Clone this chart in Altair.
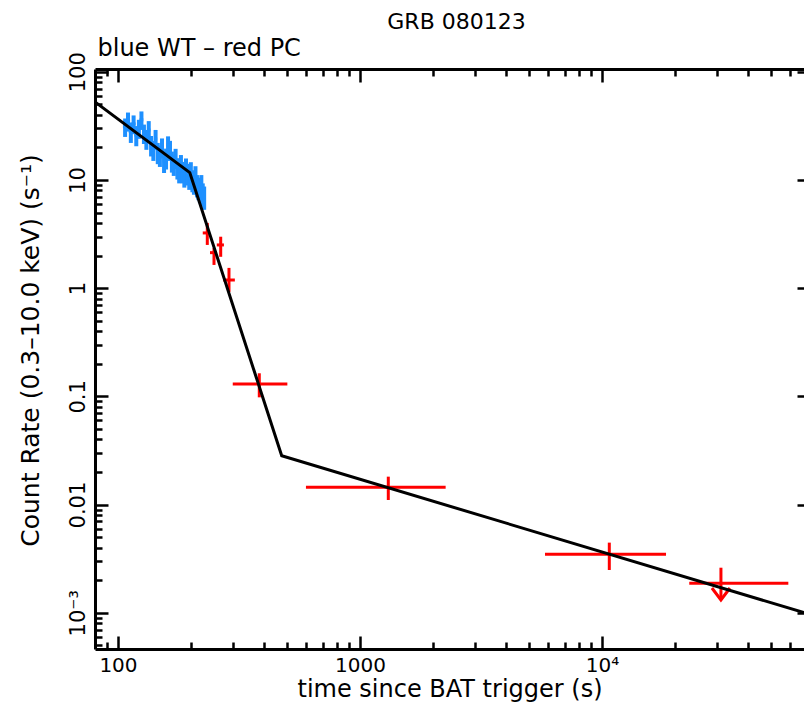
import altair as alt
import pandas as pd

# ---------------- data ----------------
# WT mode (blue) binned points
WT_T = [107, 110, 113, 116, 119, 122, 125, 128, 131, 134, 137, 140, 143, 146, 149,
        152, 155, 158, 161, 164, 167, 170, 173, 176, 179, 182, 185, 188, 191, 194,
        197, 200, 203, 206, 209, 212, 215, 218, 221, 224, 227]
WT_RATE = [31, 35, 28, 33, 26, 30, 36, 27, 24, 29, 21, 19, 24, 18, 17,
           20, 15, 16, 21, 19, 15, 14, 16, 13, 12, 14, 12, 11, 13, 11.5,
           10.5, 12, 10, 9.5, 11, 9, 8.5, 8, 9, 7.5, 7]
WT_ERR = [6, 7, 6, 6.5, 5.5, 6, 7, 5.5, 5, 6, 4.5, 4, 5, 4, 3.8,
          4.2, 3.4, 3.5, 4.3, 4, 3.3, 3.1, 3.4, 2.9, 2.7, 3, 2.7, 2.5, 2.8, 2.6,
          2.4, 2.6, 2.3, 2.2, 2.4, 2.1, 2, 1.9, 2.1, 1.8, 1.7]
WT_HALF_BIN = 2.2

# PC mode (red) points
PC_T = [233.9, 249.3, 265.7, 287.5, 383.6, 1309, 10720]
PC_T_LO = [224, 240, 256, 272, 298, 598, 5814]
PC_T_HI = [240, 256, 274, 304, 501, 2259, 18390]
PC_RATE = [3.24, 2.13, 2.51, 1.19, 0.130, 0.01445, 0.00347]
PC_RATE_LO = [2.51, 1.64, 1.95, 0.923, 0.098, 0.01103, 0.002487]
PC_RATE_HI = [4.01, 2.35, 2.99, 1.54, 0.1635, 0.01812, 0.00445]

# PC upper limit
UL_T = [31010]
UL_T_LO = [22940]
UL_T_HI = [58880]
UL_RATE = [0.001874]
UL_TOP = [0.00261]
UL_TIP = [0.001312]

# broken power-law model
MODEL_T = [80.35, 198.0, 474.8, 68350.0]
MODEL_RATE = [52.6, 11.7, 0.0283, 0.001003]

# axes
X_DOMAIN = [80.35, 68350]
Y_DOMAIN = [0.0004627, 106.1]
X_MAJOR = [100, 1000, 10000]
X_MAJOR_LABELS = ["100", "1000", "10⁴"]
X_MINOR = [90, 200, 300, 400, 500, 600, 700, 800, 900,
           2000, 3000, 4000, 5000, 6000, 7000, 8000, 9000,
           20000, 30000, 40000, 50000, 60000]
Y_MAJOR = [0.001, 0.01, 0.1, 1, 10, 100]
Y_MAJOR_LABELS = ["10⁻³", "0.01", "0.1", "1", "10", "100"]
Y_MINOR = [0.0005, 0.0006, 0.0007, 0.0008, 0.0009,
           0.002, 0.003, 0.004, 0.005, 0.006, 0.007, 0.008, 0.009,
           0.02, 0.03, 0.04, 0.05, 0.06, 0.07, 0.08, 0.09,
           0.2, 0.3, 0.4, 0.5, 0.6, 0.7, 0.8, 0.9,
           2, 3, 4, 5, 6, 7, 8, 9,
           20, 30, 40, 50, 60, 70, 80, 90]

TITLE = "GRB 080123"
SUBTITLE = "blue WT – red PC"
X_TITLE = "time since BAT trigger (s)"
Y_TITLE = "Count Rate (0.3–10.0 keV) (s⁻¹)"

BLUE = "#1E90FF"
RED = "#FF0000"
FONT = "DejaVu Sans"

W, H = 709, 580

# ---------------- tables ----------------
wt = pd.DataFrame({"t": WT_T, "rate": WT_RATE, "err": WT_ERR})
wt["lo"] = wt["rate"] - wt["err"]
wt["hi"] = wt["rate"] + wt["err"]
wt["t_lo"] = wt["t"] - WT_HALF_BIN
wt["t_hi"] = wt["t"] + WT_HALF_BIN

pc_v = pd.DataFrame({"t": PC_T + UL_T, "lo": PC_RATE_LO + UL_TIP, "hi": PC_RATE_HI + UL_TOP})
pc_h = pd.DataFrame({"t_lo": PC_T_LO + UL_T_LO, "t_hi": PC_T_HI + UL_T_HI, "rate": PC_RATE + UL_RATE})
ul = pd.DataFrame({"t": UL_T, "tip": UL_TIP})
model = pd.DataFrame({"t": MODEL_T, "rate": MODEL_RATE})


def label_expr(values, labels):
    expr = "'" + labels[-1] + "'"
    for i in range(len(values) - 2, -1, -1):
        b = (values[i] * values[i + 1]) ** 0.5
        expr = f"datum.value < {b} ? '{labels[i]}' : ({expr})"
    return expr


XS = alt.Scale(type="log", domain=X_DOMAIN, nice=False, zero=False)
YS = alt.Scale(type="log", domain=Y_DOMAIN, nice=False, zero=False)

TITLE_STYLE = dict(titleFont=FONT, titleFontWeight="normal", titleColor="black")


def tick_axis(values, size, orient, **extra):
    title = extra.pop("title", None)
    return alt.Axis(orient=orient, values=values, labels=False, domain=False, grid=False,
                    ticks=True, tickSize=size, tickWidth=2.5, tickColor="black",
                    offset=-size, title=title, **extra)


x_label_axis = alt.Axis(orient="bottom", values=X_MAJOR, labelExpr=label_expr(X_MAJOR, X_MAJOR_LABELS),
                        ticks=False, tickSize=0, domain=True, domainWidth=3, domainColor="black",
                        grid=False, labelFont=FONT, labelFontSize=20, labelColor="black",
                        labelPadding=16, labelBaseline="middle", labelAlign="center",
                        labelFlush=False, labelOverlap=False,
                        title=X_TITLE, titleFontSize=24, titleY=40, titleBaseline="middle",
                        **TITLE_STYLE)

y_label_axis = alt.Axis(orient="left", values=Y_MAJOR, labelExpr=label_expr(Y_MAJOR, Y_MAJOR_LABELS),
                        ticks=False, tickSize=0, domain=True, domainWidth=3, domainColor="black",
                        grid=False, labelFont=FONT, labelFontSize=21, labelColor="black",
                        labelAngle=270, labelAlign="center", labelBaseline="middle",
                        labelPadding=17, labelFlush=False, labelOverlap=False,
                        title=Y_TITLE, titleFontSize=25, titleAngle=270, titleX=-65, titleY=281,
                        titleAlign="center", titleBaseline="middle", **TITLE_STYLE)

top_frame_axis = alt.Axis(orient="top", labels=False, ticks=False, tickSize=0, grid=False,
                          domain=True, domainWidth=3, domainColor="black",
                          title=TITLE, titleFontSize=22, titleX=361, titleY=-48,
                          titleAlign="center", titleBaseline="middle", **TITLE_STYLE)

top_major = tick_axis(X_MAJOR, 13, "top", title=SUBTITLE, titleFontSize=24, titleX=2, titleY=-34,
                      titleAlign="left", titleBaseline="middle", **TITLE_STYLE)

wt_v_layer = alt.Chart(wt).mark_rule(color=BLUE, strokeWidth=4, clip=True).encode(
    x=alt.X("t:Q", scale=XS, axis=tick_axis(X_MAJOR, 13, "bottom")),
    y=alt.Y("lo:Q", scale=YS, axis=tick_axis(Y_MAJOR, 13, "left")),
    y2="hi:Q",
)
wt_h_layer = alt.Chart(wt).mark_rule(color=BLUE, strokeWidth=3, clip=True).encode(
    x=alt.X("t_lo:Q", scale=XS, axis=tick_axis(X_MINOR, 7, "bottom")),
    x2="t_hi:Q",
    y=alt.Y("rate:Q", scale=YS, axis=tick_axis(Y_MINOR, 7, "left")),
)
pc_v_layer = alt.Chart(pc_v).mark_rule(color=RED, strokeWidth=3, clip=True).encode(
    x=alt.X("t:Q", scale=XS, axis=top_major),
    y=alt.Y("lo:Q", scale=YS, axis=tick_axis(Y_MAJOR, 7, "right")),
    y2="hi:Q",
)
pc_h_layer = alt.Chart(pc_h).mark_rule(color=RED, strokeWidth=3, clip=True).encode(
    x=alt.X("t_lo:Q", scale=XS, axis=tick_axis(X_MINOR, 7, "top")),
    x2="t_hi:Q",
    y=alt.Y("rate:Q", scale=YS, axis=None),
)
ul_layer = alt.Chart(ul).mark_point(shape="M -0.9 -1.2 L 0 0 L 0.9 -1.2", filled=False,
                                    color=RED, strokeWidth=3, size=400, opacity=1, clip=True).encode(
    x=alt.X("t:Q", scale=XS, axis=top_frame_axis),
    y=alt.Y("tip:Q", scale=YS, axis=None),
)
model_layer = alt.Chart(model).mark_line(color="black", strokeWidth=3, clip=True).encode(
    x=alt.X("t:Q", scale=XS, axis=x_label_axis),
    y=alt.Y("rate:Q", scale=YS, axis=y_label_axis),
)

chart = alt.layer(wt_v_layer, wt_h_layer, pc_v_layer, pc_h_layer, ul_layer, model_layer).resolve_scale(
    x="shared", y="shared"
).resolve_axis(
    x="independent", y="independent"
).properties(
    width=W, height=H,
    autosize=alt.AutoSizeParams(type="none"),
    padding={"left": 87, "top": 61, "right": 0, "bottom": 55},
    background="white",
).configure_view(stroke="transparent", strokeWidth=0)

chart.save("out.html", embed_options={"renderer": "svg", "actions": False})
